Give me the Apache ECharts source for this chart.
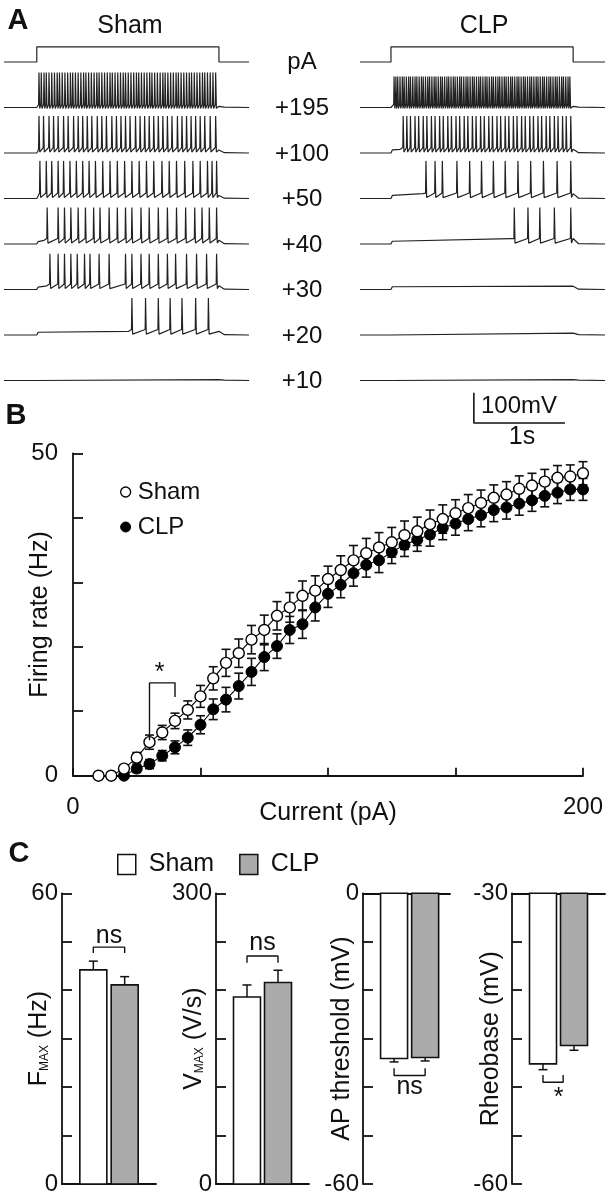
<!DOCTYPE html>
<html>
<head>
<meta charset="utf-8">
<script src="https://cdn.jsdelivr.net/npm/echarts@6.0.0/dist/echarts.min.js"></script>
<style>
html,body{margin:0;padding:0;background:#fff;}
#chart{width:609px;height:1199px;}
</style>
</head>
<body>
<div id="chart"></div>
<script>
// ================= DATA =================
// ---- Panel A : current step (s) and spike times (s after step onset) ----
const stepWindow = [0, 2.0];
const rowLabels = ['pA', '+195', '+100', '+50', '+40', '+30', '+20', '+10'];

const sham195 = [0.02,0.045,0.075,0.10,0.13,0.16,0.19,0.22,0.245,0.275,0.305,0.335,0.365,0.39,0.42,0.45,0.48,0.51,0.535,0.565,0.595,0.625,0.655,0.68,0.71,0.74,0.77,0.80,0.825,0.855,0.885,0.915,0.945,0.97,1.00,1.03,1.06,1.09,1.115,1.145,1.175,1.205,1.235,1.26,1.29,1.32,1.35,1.38,1.405,1.435,1.465,1.495,1.525,1.55,1.58,1.61,1.64,1.67,1.695,1.725,1.755,1.785,1.815,1.84,1.87,1.90,1.93,1.96];
const sham100 = [0.02,0.07,0.13,0.18,0.23,0.29,0.34,0.40,0.45,0.50,0.55,0.60,0.66,0.71,0.76,0.82,0.87,0.92,0.97,1.02,1.08,1.13,1.18,1.23,1.28,1.33,1.38,1.43,1.48,1.54,1.59,1.64,1.69,1.74,1.79,1.84,1.90,1.96];
const sham50  = [0.03,0.10,0.16,0.23,0.29,0.36,0.43,0.50,0.57,0.64,0.72,0.80,0.88,0.96,1.04,1.12,1.20,1.28,1.37,1.45,1.53,1.62,1.71,1.79,1.87,1.92,1.97];
const sham40  = [0.11,0.23,0.30,0.37,0.45,0.53,0.62,0.69,0.79,0.88,0.97,1.04,1.14,1.23,1.33,1.43,1.53,1.63,1.73,1.81,1.89,1.97];
const sham30  = [0.14,0.23,0.30,0.37,0.44,0.52,0.58,0.68,0.79,0.97,1.04,1.14,1.23,1.33,1.43,1.52,1.64,1.75,1.86,1.97];
const sham20  = [1.04,1.19,1.33,1.46,1.59,1.74,1.88];
const sham10  = [];

const clp195 = [0.03,0.05,0.07,0.095,0.12,0.14,0.165,0.19,0.21,0.235,0.26,0.28,0.305,0.33,0.35,0.375,0.40,0.42,0.445,0.47,0.49,0.515,0.54,0.56,0.585,0.61,0.63,0.655,0.68,0.70,0.725,0.75,0.77,0.795,0.82,0.84,0.865,0.89,0.91,0.935,0.96,0.98,1.005,1.03,1.05,1.075,1.10,1.12,1.145,1.17,1.19,1.215,1.24,1.26,1.285,1.31,1.33,1.355,1.38,1.40,1.425,1.45,1.47,1.495,1.52,1.54,1.565,1.59,1.61,1.635,1.66,1.68,1.705,1.73,1.75,1.775,1.80,1.82,1.845,1.87,1.89,1.915,1.94,1.96];
const clp100 = [0.13,0.17,0.21,0.26,0.30,0.35,0.39,0.44,0.48,0.53,0.57,0.62,0.66,0.71,0.75,0.80,0.84,0.89,0.93,0.98,1.02,1.07,1.11,1.16,1.20,1.25,1.29,1.34,1.38,1.43,1.47,1.52,1.56,1.61,1.65,1.70,1.74,1.79,1.83,1.88,1.92,1.97];
const clp50  = [0.38,0.48,0.56,0.72,0.86,0.99,1.12,1.25,1.39,1.53,1.67,1.82,1.97];
const clp40  = [1.35,1.50,1.63,1.79,1.97];
const clp30  = [];
const clp20  = [];
const clp10  = [];

// sub-threshold depolarisation (mV above rest) at step onset / late in step, spike peak (mV)
const shamDepStart = [4, 8, 8, 8, 8, 9, 3];
const shamDepEnd   = [4, 10, 10, 12, 12, 12, 3];
const shamPeak     = [115, 122, 124, 120, 118, 122, 0];
const clpDepStart  = [4, 10, 10, 9, 9, 5, 3];
const clpDepEnd    = [4, 12, 16, 18, 11, 6, 3];
const clpPeak      = [102, 122, 124, 120, 0, 0, 0];

// ---- Panel B : firing rate vs injected current ----
const currents = [10,15,20,25,30,35,40,45,50,55,60,65,70,75,80,85,90,95,100,105,110,115,120,125,130,135,140,145,150,155,160,165,170,175,180,185,190,195,200];
const shamRate = [0,0,1.1,2.8,5.2,6.7,8.5,10.2,12.3,15.1,17.5,19.0,21.1,22.6,24.8,26.1,27.9,28.7,30.5,31.9,33.4,34.5,35.4,36.2,37.3,37.9,39.0,39.8,40.7,41.5,42.3,43.1,43.6,44.5,45.0,45.6,46.2,46.4,46.9];
const shamSem  = [0,0,0.5,0.8,1.1,1.1,1.2,1.4,1.7,1.8,2.1,2.2,2.2,2.3,2.2,2.3,2.3,2.3,2.0,2.2,2.3,2.3,2.3,2.3,2.2,2.2,2.2,2.2,2.1,2.1,2.0,2.0,2.0,2.0,1.9,1.9,1.9,1.8,1.8];
const clpRate  = [null,null,0,1.1,1.8,3.1,4.4,5.9,7.9,10.3,11.8,13.9,16.1,18.4,20.1,22.6,23.5,26.1,28.2,29.6,31.4,32.7,33.4,34.7,35.8,36.6,37.4,38.4,39.1,39.8,40.4,41.2,41.6,42.2,42.7,43.4,43.9,44.4,44.4];
const clpSem   = [0,0,0.4,0.6,0.7,0.8,1.0,1.2,1.4,1.6,1.9,2.0,2.1,2.1,1.9,2.1,2.2,2.1,2.1,2.0,2.0,1.9,1.9,1.8,1.8,1.8,1.8,1.8,1.8,1.8,1.8,1.8,1.8,1.8,1.7,1.7,1.7,1.7,1.7];
const bStarRange = [30, 40];

// ---- Panel C : mean (Sham, CLP) and SEM ----
const groups   = ['Sham', 'CLP'];
const fmax     = [44.2, 41.1];  const fmaxErr  = [1.8, 1.7];
const vmax     = [193, 208];    const vmaxErr  = [12.4, 12.6];
const apThr    = [-34.1, -33.9]; const apThrErr = [0.7, 0.7];
const rheo     = [-47.6, -45.7]; const rheoErr  = [0.6, 0.5];
const cSig     = ['ns', 'ns', 'ns', '*'];

// ================= CHART =================
const FONT = '"Liberation Sans", Arial, Helvetica, sans-serif';
const INK = '#111';
const GRAY = '#ababab';
const chart = echarts.init(document.getElementById('chart'), null, {renderer: 'canvas'});

// ----- Panel A layout -----
const ROW_MV = 150, ROW_PX = 45.5, K = ROW_PX / ROW_MV;
const A_BASE_PX = 62, A_YMAX = 100, A_YMIN = -1260;
const aTop = A_BASE_PX - A_YMAX * K, aHeight = (A_YMAX - A_YMIN) * K;
const A_XMIN = [-0.36, -0.34], A_XMAX = [2.33, 2.35];
const rowPx = r => A_BASE_PX + r * ROW_PX;

function stepTrace(side) {
  const h = 50;
  return [[A_XMIN[side], 0], [stepWindow[0], 0], [stepWindow[0], h], [stepWindow[1], h], [stepWindow[1], 0], [A_XMAX[side], 0]];
}
function membraneTrace(side, row, spikes, dep0, dep1, peak) {
  const b = -ROW_MV * row;
  const fast = row === 1;
  const thr = fast ? 10 : 18, trough = fast ? -3 : 3;
  const pts = [[A_XMIN[side], b], [stepWindow[0], b], [stepWindow[0] + 0.015, b + dep0]];
  spikes.forEach((t, i) => {
    if (i === 0 && t > 0.1) pts.push([t - 0.03, b + dep1]);
    pts.push([t, b + thr], [t + 0.004, b + peak], [t + 0.012, b + trough]);
  });
  pts.push([stepWindow[1], b + dep1], [stepWindow[1] + 0.06, b + 1], [A_XMAX[side], b]);
  return pts;
}

const series = [];
const traceLine = (xi, data) => ({
  type: 'line', xAxisIndex: xi, yAxisIndex: xi, data, symbol: 'none', silent: true,
  lineStyle: {color: '#222', width: 1.2}, animation: false, z: 2
});
series.push(traceLine(0, stepTrace(0)), traceLine(1, stepTrace(1)));
const shamTrains = [sham195, sham100, sham50, sham40, sham30, sham20, sham10];
const clpTrains  = [clp195, clp100, clp50, clp40, clp30, clp20, clp10];
shamTrains.forEach((sp, i) => series.push(traceLine(0, membraneTrace(0, i + 1, sp, shamDepStart[i], shamDepEnd[i], shamPeak[i]))));
clpTrains.forEach((sp, i) => series.push(traceLine(1, membraneTrace(1, i + 1, sp, clpDepStart[i], clpDepEnd[i], clpPeak[i]))));
// scale bar 100 mV / 1 s
const sbT = 0.91, sbV = -1190;
series.push({type: 'line', xAxisIndex: 1, yAxisIndex: 1, symbol: 'none', silent: true,
  data: [[sbT, sbV + 100], [sbT, sbV], [sbT + 1, sbV]],
  lineStyle: {color: INK, width: 1.6}});

// ----- Panel B -----
const errRender = (p, api) => {
  const x = api.value(0), y = api.value(1), e = api.value(2);
  if (!(e > 0)) return null;
  const t = api.coord([x, y + e]), b = api.coord([x, y - e]), w = 4.5;
  const st = {stroke: INK, lineWidth: 1.6};
  return {type: 'group', children: [
    {type: 'line', shape: {x1: t[0], y1: t[1], x2: b[0], y2: b[1]}, style: st},
    {type: 'line', shape: {x1: t[0] - w, y1: t[1], x2: t[0] + w, y2: t[1]}, style: st},
    {type: 'line', shape: {x1: b[0] - w, y1: b[1], x2: b[0] + w, y2: b[1]}, style: st}
  ]};
};
const shamPts = currents.map((c, i) => [c, shamRate[i], shamSem[i]]);
const clpPts = currents.map((c, i) => [c, clpRate[i], clpSem[i]]).filter(d => d[1] !== null);
series.push({type: 'custom', xAxisIndex: 2, yAxisIndex: 2, data: clpPts, renderItem: errRender, encode: {x: 0, y: 1}, z: 2, silent: true});
series.push({type: 'custom', xAxisIndex: 2, yAxisIndex: 2, data: shamPts, renderItem: errRender, encode: {x: 0, y: 1}, z: 2, silent: true});
series.push({name: 'CLP', type: 'line', xAxisIndex: 2, yAxisIndex: 2, data: clpPts.map(d => [d[0], d[1]]),
  symbol: 'circle', symbolSize: 11, itemStyle: {color: '#000', borderColor: '#000', borderWidth: 1},
  lineStyle: {color: '#000', width: 1.1}, z: 3, clip: false, silent: true});
series.push({name: 'Sham', type: 'line', xAxisIndex: 2, yAxisIndex: 2, data: shamPts.map(d => [d[0], d[1]]),
  symbol: 'circle', symbolSize: 11, itemStyle: {color: '#fff', borderColor: '#000', borderWidth: 1.4},
  lineStyle: {color: '#000', width: 1.1}, z: 4, clip: false, silent: true});
series.push({type: 'line', xAxisIndex: 2, yAxisIndex: 2, symbol: 'none', silent: true, z: 5,
  data: [[bStarRange[0], 5.5], [bStarRange[0], 14.4], [bStarRange[1], 14.4], [bStarRange[1], 12.2]],
  lineStyle: {color: INK, width: 1.4}});

// text placed in data coordinates
function textSeries(xi, items, size) {
  return {type: 'custom', xAxisIndex: xi, yAxisIndex: xi, data: items.map(d => [d[0], d[1]]), encode: {x: 0, y: 1},
    silent: true, z: 6, clip: false,
    renderItem: (p, api) => {
      const c = api.coord([api.value(0), api.value(1)]);
      return {type: 'text', x: c[0], y: c[1], style: {text: items[p.dataIndex][2], fontSize: size, fontFamily: FONT, fill: INK, align: 'center', verticalAlign: 'middle'}};
    }};
}
series.push(textSeries(2, [[(bStarRange[0] + bStarRange[1]) / 2 - 1, 15.9, '*']], 25));

// ----- Panel C -----
const cData = [
  {vals: fmax, errs: fmaxErr, base: 0, min: 0, max: 60, step: 10, xmax: 3},
  {vals: vmax, errs: vmaxErr, base: 0, min: 0, max: 300, step: 50, xmax: 3},
  {vals: apThr, errs: apThrErr, base: 0, min: -60, max: 0, step: 10, xmax: 2.8},
  {vals: rheo, errs: rheoErr, base: -30, min: -60, max: -30, step: 5, xmax: 3}
];
const cGridLeft = [62, 216, 363, 512];
const cGridWidth = [94, 93, 87, 93];
const C_TOP = 893.3, C_H = 290.7;
const cBrackets = [
  {pts: [[1, 47.7], [1, 48.9], [2, 48.9], [2, 47.7]], txt: [1.5, 51.2]},
  {pts: [[1, 228.4], [1, 235.3], [2, 235.3], [2, 228.4]], txt: [1.5, 248.5]},
  {pts: [[1, -36.1], [1, -37.6], [2, -37.6], [2, -36.1]], txt: [1.5, -39.9]},
  {pts: [[1, -48.75], [1, -49.5], [1.65, -49.5], [1.65, -48.75]], txt: [1.5, -51.1]}
];
const barRender = (fill, base) => (p, api) => {
  const x = api.value(0), v = api.value(1), e = api.value(2);
  const p0 = api.coord([x, base]), p1 = api.coord([x, v]);
  const dir = v >= base ? 1 : -1;
  const pe = api.coord([x, v + dir * e]);
  const hw = 13.5, cw = 4.5;
  const st = {stroke: INK, lineWidth: 1.5};
  return {type: 'group', children: [
    {type: 'line', shape: {x1: p1[0], y1: p1[1], x2: pe[0], y2: pe[1]}, style: st},
    {type: 'line', shape: {x1: pe[0] - cw, y1: pe[1], x2: pe[0] + cw, y2: pe[1]}, style: st},
    {type: 'rect', shape: {x: p0[0] - hw, y: Math.min(p0[1], p1[1]), width: 2 * hw, height: Math.abs(p1[1] - p0[1])},
      style: {fill, stroke: INK, lineWidth: 1.6}}
  ]};
};
cData.forEach((c, k) => {
  const xi = 3 + k;
  groups.forEach((g, gi) => {
    series.push({type: 'custom', xAxisIndex: xi, yAxisIndex: xi, data: [[gi + 1, c.vals[gi], c.errs[gi]]],
      encode: {x: 0, y: 1}, renderItem: barRender(gi === 0 ? '#fff' : GRAY, c.base), clip: false, silent: true, z: 2});
  });
  series.push({type: 'line', xAxisIndex: xi, yAxisIndex: xi, symbol: 'none', silent: true, z: 3,
    data: cBrackets[k].pts, lineStyle: {color: INK, width: 1.4}});
  series.push(textSeries(xi, [[cBrackets[k].txt[0], cBrackets[k].txt[1], cSig[k]]], 25));
});

// ----- axes -----
const grids = [
  {left: 4, top: aTop, width: 245, height: aHeight},
  {left: 360, top: aTop, width: 245, height: aHeight},
  {left: 73, top: 453.3, width: 510, height: 322.4}
];
cGridLeft.forEach((l, k) => grids.push({left: l, top: C_TOP, width: cGridWidth[k], height: C_H}));
grids.forEach(g => g.outerBoundsMode = 'none');

const tickFont = {color: INK, fontSize: 24, fontFamily: FONT};
const nameFont = {color: INK, fontSize: 25, fontFamily: FONT};
const xAxes = [
  {gridIndex: 0, type: 'value', min: A_XMIN[0], max: A_XMAX[0], show: false},
  {gridIndex: 1, type: 'value', min: A_XMIN[1], max: A_XMAX[1], show: false},
  {gridIndex: 2, type: 'value', min: 0, max: 200, interval: 50, offset: 14,
    axisLine: {show: true, lineStyle: {color: INK, width: 1.8}},
    axisTick: {show: true, inside: true, length: 8, lineStyle: {color: INK, width: 1.8}},
    axisLabel: Object.assign({margin: 6, showMinLabel: true, showMaxLabel: true,
      formatter: v => (v === 0 || v === 200) ? String(v) : ''}, tickFont),
    splitLine: {show: false},
    name: 'Current (pA)', nameLocation: 'middle', nameGap: 11, nameMoveOverlap: false, nameTextStyle: nameFont}
];
const yAxes = [
  {gridIndex: 0, type: 'value', min: A_YMIN, max: A_YMAX, show: false},
  {gridIndex: 1, type: 'value', min: A_YMIN, max: A_YMAX, show: false},
  {gridIndex: 2, type: 'value', min: 0, max: 50, interval: 10, offset: 10,
    axisLine: {show: true, lineStyle: {color: INK, width: 1.8}},
    axisTick: {show: true, inside: true, length: 10, lineStyle: {color: INK, width: 1.8}},
    axisLabel: Object.assign({margin: 5, showMinLabel: true, showMaxLabel: true,
      formatter: v => (v === 0 || v === 50) ? String(v) : ''}, tickFont),
    splitLine: {show: false},
    name: 'Firing rate (Hz)', nameLocation: 'middle', nameGap: 10, nameMoveOverlap: false, nameTextStyle: nameFont}
];
const cNames = ['{n|F}{s|MAX}{n| (Hz)}', '{n|V}{s|MAX}{n| (V/s)}', 'AP threshold (mV)', 'Rheobase (mV)'];
const richName = {
  n: {fontSize: 25, fontFamily: FONT, color: INK},
  s: {fontSize: 12, fontFamily: FONT, color: INK, verticalAlign: 'bottom', padding: [0, 0, 1, 0]}
};
const cNameGap = [10, 9, 8, 8];
cData.forEach((c, k) => {
  const gi = 3 + k;
  xAxes.push({gridIndex: gi, type: 'value', min: 0, max: c.xmax, position: c.base === c.max ? 'top' : 'bottom',
    axisLine: {show: true, onZero: false, lineStyle: {color: INK, width: 1.8}},
    axisTick: {show: false}, axisLabel: {show: false}, splitLine: {show: false}});
  yAxes.push({gridIndex: gi, type: 'value', min: c.min, max: c.max, interval: c.step,
    axisLine: {show: true, lineStyle: {color: INK, width: 1.8}},
    axisTick: {show: true, inside: true, length: 10, lineStyle: {color: INK, width: 1.8}},
    axisLabel: Object.assign({margin: 4, showMinLabel: true, showMaxLabel: true,
      formatter: v => (v === c.min || v === c.max) ? String(v) : ''}, tickFont),
    splitLine: {show: false},
    name: cNames[k], nameLocation: 'middle', nameGap: cNameGap[k], nameMoveOverlap: false,
    nameTextStyle: Object.assign({rich: richName}, nameFont)});
});

// ----- free text -----
const txt = (x, y, text, size, extra) => ({type: 'text', x, y, silent: true,
  style: Object.assign({text, fontSize: size, fontFamily: FONT, fill: INK, align: 'center', verticalAlign: 'middle'}, extra || {})});
const graphics = [
  txt(18, 21, 'A', 29, {fontWeight: 'bold'}),
  txt(16, 416, 'B', 29, {fontWeight: 'bold'}),
  txt(19, 854, 'C', 29, {fontWeight: 'bold'}),
  txt(130, 26, 'Sham', 25),
  txt(484, 26, 'CLP', 25),
  txt(519, 406, '100mV', 24),
  txt(522, 437, '1s', 25)
];
rowLabels.forEach((l, r) => graphics.push(txt(302, rowPx(r) + (r === 0 ? 0 : 1), l, 24)));

chart.setOption({
  animation: false,
  backgroundColor: '#fff',
  textStyle: {fontFamily: FONT},
  grid: grids,
  xAxis: xAxes,
  yAxis: yAxes,
  legend: [
    {orient: 'vertical', left: 120, top: 480, padding: 0, itemGap: 11, itemWidth: 10, itemHeight: 10, selectedMode: false,
      icon: 'circle', textStyle: {color: INK, fontSize: 24, fontFamily: FONT, lineHeight: 24, padding: [0, 0, 0, 2]},
      data: [{name: 'Sham', itemStyle: {color: '#fff', borderColor: '#000', borderWidth: 1.3}},
             {name: 'CLP', itemStyle: {color: '#000', borderColor: '#000', borderWidth: 1}}]},
    {orient: 'horizontal', left: 117, top: 852, padding: 0, itemGap: 25, itemWidth: 18, itemHeight: 20, selectedMode: false,
      icon: 'rect', textStyle: {color: INK, fontSize: 25, fontFamily: FONT, lineHeight: 20, padding: [0, 0, 0, 8]},
      data: [{name: 'Sham', itemStyle: {color: '#fff', borderColor: INK, borderWidth: 1.5}},
             {name: 'CLP', itemStyle: {color: GRAY, borderColor: INK, borderWidth: 1.5}}]}
  ],
  graphic: {elements: graphics},
  series
});
</script>
</body>
</html>
